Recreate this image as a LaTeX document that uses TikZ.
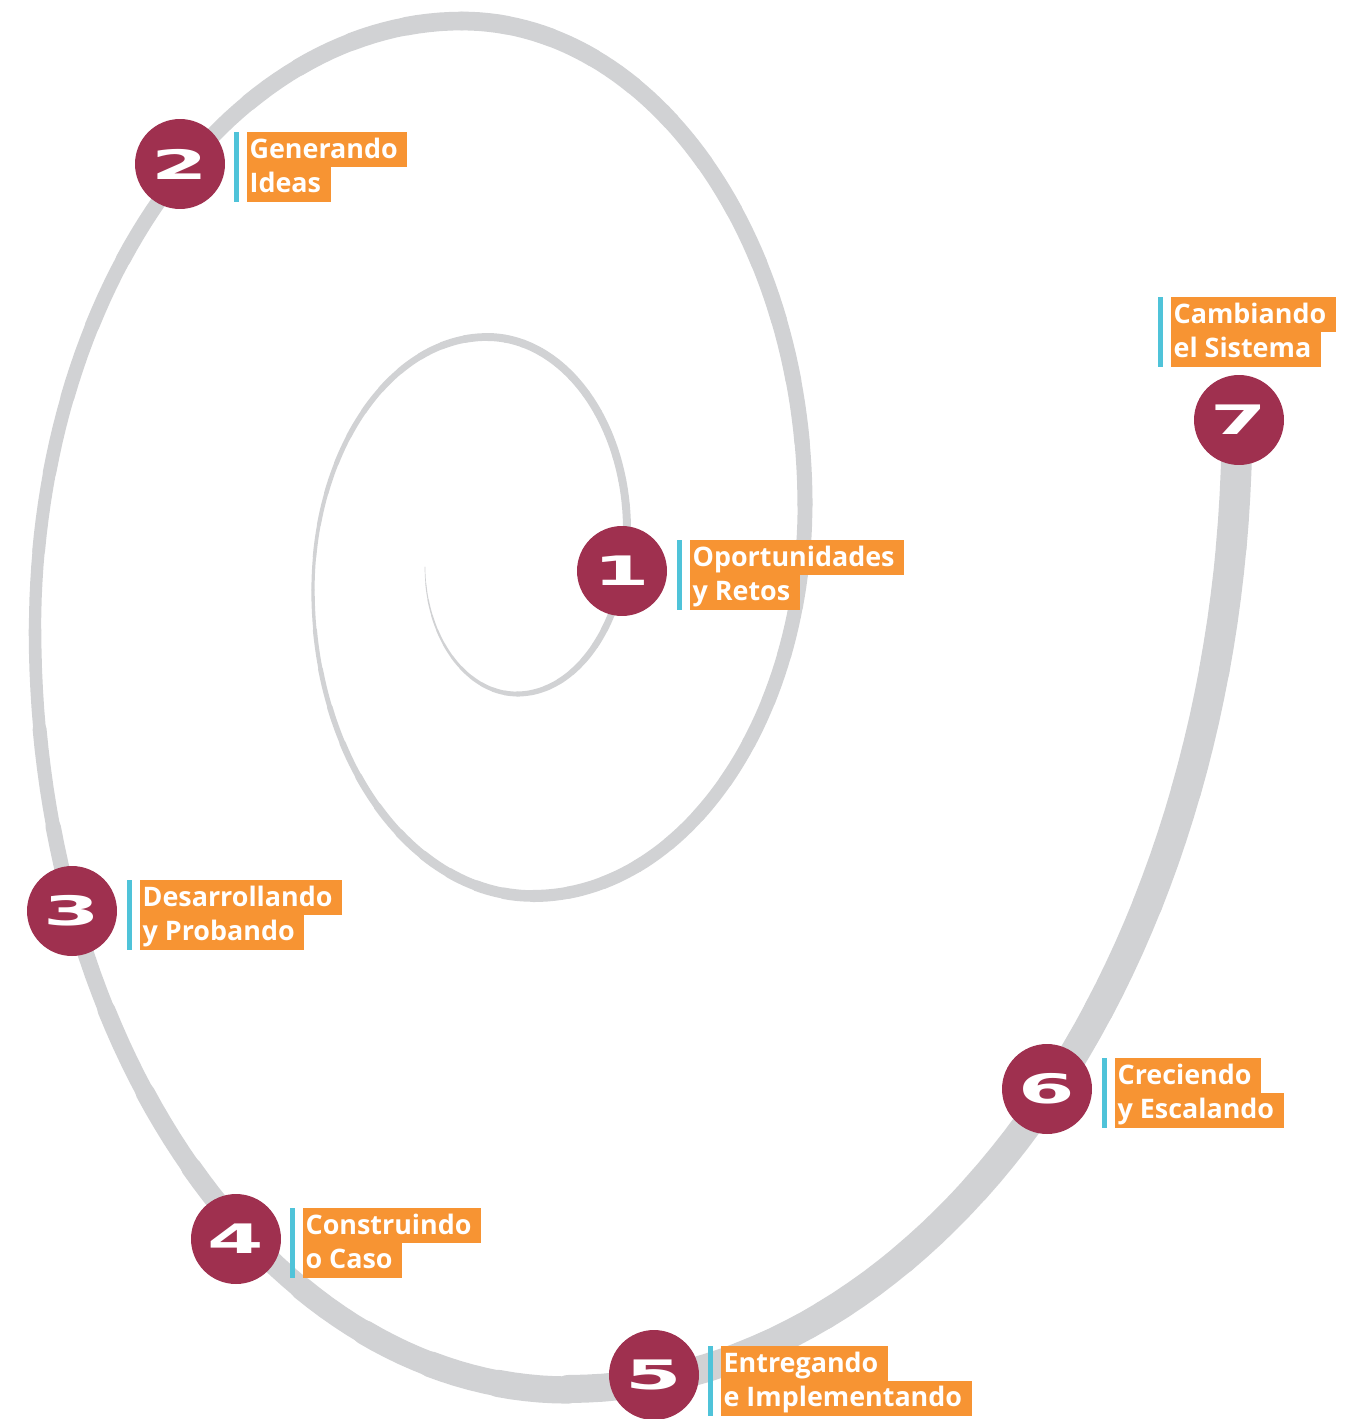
\documentclass[tikz,border=0pt]{standalone}
\usepackage{fontspec}
\setmainfont{Open Sans}
\newfontfamily\numfont{DejaVu Sans}
\definecolor{vino}{HTML}{9F304F}
\definecolor{naranja}{HTML}{F79433}
\definecolor{celeste}{HTML}{4FC3D9}
\definecolor{gris}{HTML}{D1D2D4}
\newcommand\digito[1]{\scalebox{2.1}[1.05]{#1}}
\tikzset{
  espiral/.style={draw=gris, line cap=round},
  numdot/.style={circle, fill=vino, minimum size=1.8cm, inner sep=0pt, text=white,
    font=\numfont\bfseries\fontsize{22}{22}\selectfont},
  tagbox/.style={fill=naranja, text=white, anchor=north west, inner xsep=1.5pt, inner ysep=0pt,
    outer sep=0pt, text height=14.9pt, text depth=4.9pt,
    font=\bfseries\fontsize{15.3}{17}\selectfont, execute at end node=\hspace*{4pt}}
}
\begin{document}
\begin{tikzpicture}[x=0.02cm, y=-0.02cm]
 \useasboundingbox (0,0) rectangle (1358,1419);
 \foreach \cx/\cy/\rx/\ry/\ta/\tb/\wa/\wb in {
   517/567/92/127/180/90/0.5/5, 517/530/110/164/90/0/5/8,
   487/530/140/193/0/-90/8/8, 487/590/174/253/-90/-180/8/3,
   533/590/220/306/180/90/3/12, 533/505/272/391/90/0/12/15,
   462/505/343/484/0/-90/15/19, 462/630/427/609/-90/-180/19/12,
   568/630/533/760/180/90/12/28, 568/420/669/969/90/0/28/31}{
  \foreach \k in {0,...,11}{
   \pgfmathsetmacro\sa{\ta+(\tb-\ta)*\k/12}
   \pgfmathsetmacro\sb{\ta+(\tb-\ta)*(\k+1)/12}
   \pgfmathsetmacro\lw{(\wa+(\wb-\wa)*(\k+0.5)/12)*0.567}
   \draw[espiral, line width=\lw pt] plot[domain=\sa:\sb, samples=6]
     ({\cx+\rx*cos(\x)},{\cy+\ry*sin(\x)});
  }
 }
 \foreach \i/\cx/\cy in {1/622/571, 2/180/164, 3/72/911, 4/236/1239,
   5/654/1375, 6/1047/1089, 7/1239/420}
  \node[numdot] (n\i) at (\cx,\cy) {\digito{\i}};
 \foreach \i/\px/\py/\la/\lb in {1/690/540/Oportunidades/y Retos,
   2/247/132/Generando/Ideas, 3/140/880/Desarrollando/y Probando,
   4/303/1208/Construindo/o Caso, 5/721/1346/Entregando/e Implementando,
   6/1115/1058/Creciendo/y Escalando, 7/1171/297/Cambiando/el Sistema}{
  \node[tagbox] (t\i-a) at (\px,\py) {\la};
  \node[tagbox] (t\i-b) at (t\i-a.south west) {\lb};
  \fill[celeste] ([xshift=-0.26cm]t\i-a.north west) rectangle ([xshift=-0.16cm]t\i-b.south west);
 }
\end{tikzpicture}
\end{document}
